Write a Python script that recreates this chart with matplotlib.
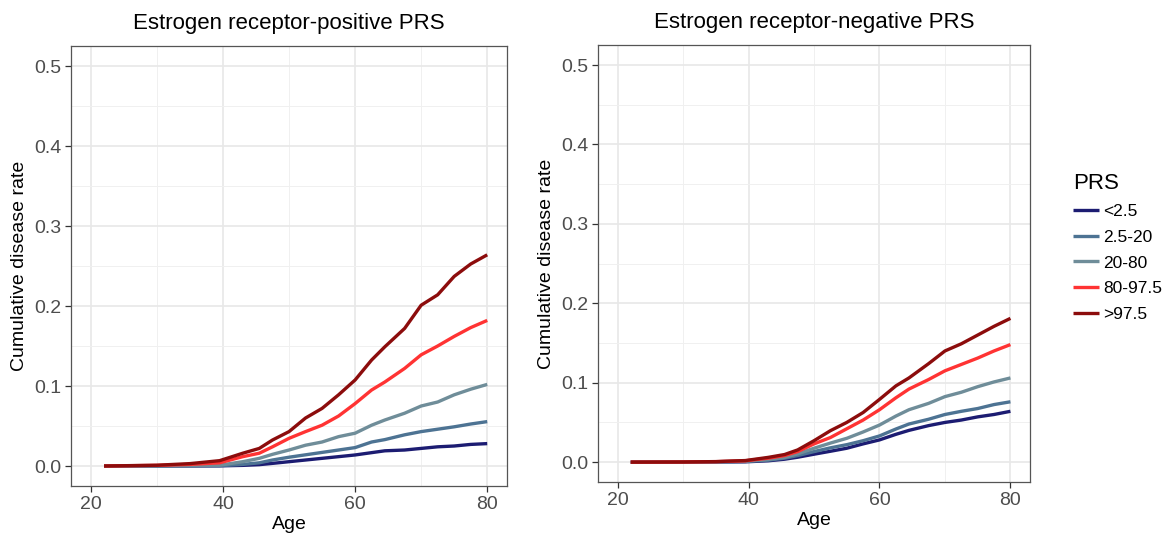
import matplotlib
matplotlib.use("Agg")
import matplotlib.pyplot as plt
from matplotlib.ticker import MultipleLocator

plt.rcParams['font.family'] = ['Liberation Sans', 'DejaVu Sans']

age = [22, 30, 35, 39.5, 43, 45.5, 47.5, 50, 52.5, 55, 57.5, 60,
       62.5, 64.5, 67.5, 70, 72.5, 75, 77.5, 80]

prs_groups = ["<2.5", "2.5-20", "20-80", "80-97.5", ">97.5"]
group_colors = ["#1c1c72", "#4d7393", "#6f8d99", "#ff3333", "#8c0c0c"]

# ER-positive cumulative rates by PRS group
er_pos = {
    "<2.5":    [0, 0, 0.0001, 0.0002, 0.0008, 0.0017, 0.0033, 0.0054, 0.0075, 0.0096, 0.0117,
                0.0138, 0.0167, 0.019, 0.020, 0.022, 0.024, 0.025, 0.027, 0.028],
    "2.5-20":  [0, 0.0001, 0.0002, 0.0004, 0.002, 0.004, 0.0075, 0.011, 0.014, 0.017, 0.020,
                0.023, 0.030, 0.033, 0.039, 0.043, 0.046, 0.049, 0.0525, 0.0555],
    "20-80":   [0, 0.0003, 0.0007, 0.001, 0.0054, 0.0096, 0.0146, 0.020, 0.026, 0.030, 0.0367,
                0.041, 0.051, 0.0575, 0.066, 0.075, 0.080, 0.089, 0.096, 0.102],
    "80-97.5": [0, 0.0008, 0.002, 0.004, 0.0117, 0.016, 0.024, 0.0346, 0.043, 0.051, 0.0625,
                0.078, 0.095, 0.105, 0.122, 0.139, 0.150, 0.162, 0.173, 0.182],
    ">97.5":   [0, 0.001, 0.003, 0.0067, 0.016, 0.022, 0.0325, 0.043, 0.060, 0.072, 0.089,
                0.1075, 0.1325, 0.149, 0.172, 0.201, 0.214, 0.237, 0.2525, 0.264],
}

# ER-negative cumulative rates by PRS group
er_neg = {
    "<2.5":    [0, 0.0001, 0.0002, 0.0004, 0.0017, 0.0037, 0.0062, 0.010, 0.0137, 0.0175, 0.023,
                0.028, 0.035, 0.040, 0.046, 0.050, 0.053, 0.057, 0.060, 0.064],
    "2.5-20":  [0, 0.0001, 0.0003, 0.0008, 0.0025, 0.005, 0.0083, 0.0133, 0.018, 0.022, 0.027,
                0.033, 0.0417, 0.048, 0.054, 0.060, 0.064, 0.0675, 0.0725, 0.076],
    "20-80":   [0, 0.0002, 0.0005, 0.0013, 0.0033, 0.006, 0.0104, 0.0175, 0.024, 0.030, 0.038,
                0.0467, 0.058, 0.066, 0.074, 0.0825, 0.088, 0.095, 0.101, 0.106],
    "80-97.5": [0, 0.0002, 0.0006, 0.0017, 0.005, 0.0083, 0.0133, 0.023, 0.031, 0.042, 0.053,
                0.066, 0.081, 0.092, 0.104, 0.115, 0.123, 0.131, 0.140, 0.148],
    ">97.5":   [0, 0.0002, 0.0007, 0.002, 0.006, 0.0096, 0.0154, 0.027, 0.0396, 0.050, 0.0625,
                0.079, 0.096, 0.106, 0.124, 0.140, 0.149, 0.160, 0.171, 0.181],
}

titles = ["Estrogen receptor-positive PRS", "Estrogen receptor-negative PRS"]

fig = plt.figure(figsize=(11.68, 5.42), dpi=100)
ax1 = fig.add_axes([0.0608, 0.1033, 0.3733, 0.8118])
ax2 = fig.add_axes([0.5120, 0.1107, 0.3699, 0.8060])

for ax, data, title in zip([ax1, ax2], [er_pos, er_neg], titles):
    for grp, col in zip(prs_groups, group_colors):
        ax.plot(age, data[grp], color=col, lw=2.4, label=grp, solid_capstyle='butt')
    ax.set_xlim(17, 83)
    ax.set_ylim(-0.025, 0.525)
    ax.xaxis.set_major_locator(MultipleLocator(20))
    ax.xaxis.set_minor_locator(MultipleLocator(10))
    ax.yaxis.set_major_locator(MultipleLocator(0.1))
    ax.yaxis.set_minor_locator(MultipleLocator(0.05))
    ax.yaxis.set_major_formatter(lambda v, p: f"{v:.1f}")
    ax.grid(which='major', color='#e8e8e8', lw=1.2)
    ax.grid(which='minor', color='#f0f0f0', lw=0.7)
    ax.set_axisbelow(True)
    for s in ax.spines.values():
        s.set_color('#555555')
        s.set_linewidth(0.9)
    ax.tick_params(which='major', direction='out', length=4, width=0.9,
                   color='#333333', labelsize=14, labelcolor='#4d4d4d', pad=3)
    ax.tick_params(which='minor', length=0)
    ax.set_xlabel("Age", fontsize=14, labelpad=2)
    ax.set_ylabel("Cumulative disease rate", fontsize=14, labelpad=4)
    ax.set_title(title, fontsize=16, pad=12)

handles, labels = ax1.get_legend_handles_labels()
leg = fig.legend(handles, labels, title="PRS", loc='upper left',
                 bbox_to_anchor=(0.905, 0.71), frameon=False,
                 fontsize=12.5, title_fontsize=16, handlelength=1.5,
                 handletextpad=0.25, labelspacing=0.6)
leg._legend_box.align = "left"

fig.savefig("out.png", dpi=100)
